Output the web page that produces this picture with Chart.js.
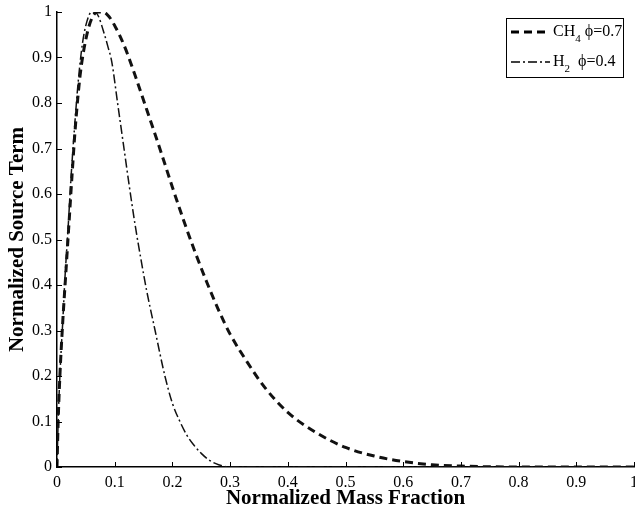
<!DOCTYPE html>
<html>
<head>
<meta charset="utf-8">
<script src="https://cdn.jsdelivr.net/npm/chart.js@4.4.1/dist/chart.umd.min.js"></script>
<style>
    html, body { margin: 0; padding: 0; background: #fff; }
    #wrap { width: 635px; height: 511px; }
</style>
</head>
<body>
<div id="wrap"><canvas id="sourceChart"></canvas></div>
<script>
// Normalized source term vs normalized mass fraction

const ch4X = [0, 0.002, 0.005, 0.01, 0.015, 0.02, 0.026, 0.032, 0.04, 0.05, 0.06, 0.07, 0.08, 0.09, 0.1, 0.11, 0.12, 0.135, 0.15, 0.165, 0.18, 0.2, 0.22, 0.24, 0.26, 0.28, 0.3, 0.33, 0.36, 0.4, 0.45, 0.5, 0.55, 0.6, 0.65, 0.7, 0.8, 0.9, 1];
const ch4Y = [0, 0.1, 0.2, 0.32, 0.42, 0.52, 0.64, 0.75, 0.86, 0.94, 0.985, 1.0, 1.0, 0.99, 0.97, 0.945, 0.915, 0.862, 0.806, 0.75, 0.693, 0.615, 0.54, 0.47, 0.405, 0.345, 0.292, 0.23, 0.175, 0.12, 0.075, 0.043, 0.024, 0.012, 0.005, 0.002, 0, 0, 0];

const h2X = [0, 0.002, 0.005, 0.01, 0.014, 0.019, 0.024, 0.03, 0.037, 0.044, 0.052, 0.06, 0.066, 0.072, 0.08, 0.088, 0.095, 0.105, 0.115, 0.125, 0.135, 0.145, 0.155, 0.17, 0.187, 0.2, 0.213, 0.225, 0.236, 0.25, 0.265, 0.28, 0.3, 0.35, 1];
const h2Y = [0, 0.1, 0.2, 0.32, 0.42, 0.52, 0.63, 0.74, 0.85, 0.93, 0.98, 1.0, 1.0, 0.99, 0.96, 0.925, 0.89, 0.80, 0.71, 0.62, 0.535, 0.46, 0.39, 0.3, 0.2, 0.14, 0.1, 0.07, 0.05, 0.03, 0.014, 0.005, 0, 0, 0];

// legend text pieces: base, subscript, rest
const legendParts = [
    ['CH', '4', ' \u03D5=0.7'],
    ['H', '2', '  \u03D5=0.4']
];

const toPoints = (xs, ys) => xs.map((x, i) => ({ x: x, y: ys[i] }));

const FONT = '"Liberation Serif", "Times New Roman", serif';

// ticks pointing into the plot, like the original
const inwardTicks = {
    id: 'inwardTicks',
    afterDraw(chart) {
        const ctx = chart.ctx;
        const area = chart.chartArea;
        const xs = chart.scales.x;
        const ys = chart.scales.y;
        ctx.save();
        ctx.strokeStyle = '#000';
        ctx.lineWidth = 1;
        xs.ticks.forEach(t => {
            const px = Math.round(xs.getPixelForValue(t.value)) + 0.5;
            ctx.beginPath();
            ctx.moveTo(px, area.bottom);
            ctx.lineTo(px, area.bottom - 5);
            ctx.stroke();
        });
        ys.ticks.forEach(t => {
            const py = Math.round(ys.getPixelForValue(t.value)) + 0.5;
            ctx.beginPath();
            ctx.moveTo(area.left, py);
            ctx.lineTo(area.left + 5, py);
            ctx.stroke();
        });
        ctx.restore();
    }
};

// boxed legend with subscripts
const boxLegend = {
    id: 'boxLegend',
    afterDraw(chart) {
        const ctx = chart.ctx;
        const left = 506, top = 18, w = 117, h = 59;
        ctx.save();
        ctx.fillStyle = '#fff';
        ctx.fillRect(left, top, w, h);
        ctx.strokeStyle = '#000';
        ctx.lineWidth = 1;
        ctx.strokeRect(left + 0.5, top + 0.5, w, h);
        chart.data.datasets.forEach((ds, i) => {
            const y = top + 14 + i * 30;
            ctx.beginPath();
            ctx.setLineDash(ds.borderDash);
            ctx.lineWidth = ds.borderWidth;
            ctx.moveTo(511, y);
            ctx.lineTo(550, y);
            ctx.stroke();
            ctx.setLineDash([]);
            const p = legendParts[i];
            ctx.fillStyle = '#000';
            ctx.textBaseline = 'middle';
            ctx.font = '16px ' + FONT;
            let x = 553;
            ctx.fillText(p[0], x, y);
            x += ctx.measureText(p[0]).width;
            ctx.font = '11px ' + FONT;
            ctx.fillText(p[1], x, y + 7);
            x += ctx.measureText(p[1]).width;
            ctx.font = '16px ' + FONT;
            ctx.fillText(p[2], x, y);
        });
        ctx.restore();
    }
};

new Chart(document.getElementById('sourceChart'), {
    type: 'line',
    data: {
        datasets: [
            {
                label: 'CH4 phi=0.7',
                data: toPoints(ch4X, ch4Y),
                borderColor: '#111',
                borderWidth: 3,
                borderDash: [8, 5],
                pointRadius: 0,
                fill: false,
                cubicInterpolationMode: 'monotone'
            },
            {
                label: 'H2 phi=0.4',
                data: toPoints(h2X, h2Y),
                borderColor: '#111',
                borderWidth: 1.5,
                borderDash: [9, 3, 2, 3],
                pointRadius: 0,
                fill: false,
                cubicInterpolationMode: 'monotone'
            }
        ]
    },
    options: {
        responsive: true,
        maintainAspectRatio: false,
        animation: false,
        layout: { padding: { top: 12, right: 1, left: 0, bottom: 0 } },
        plugins: {
            legend: { display: false },
            tooltip: { enabled: false }
        },
        scales: {
            x: {
                type: 'linear',
                min: 0,
                max: 1,
                grid: { drawOnChartArea: false, drawTicks: false },
                border: { color: '#000', width: 1.5 },
                ticks: {
                    stepSize: 0.1,
                    padding: 6,
                    color: '#000',
                    font: { family: FONT, size: 16 },
                    maxRotation: 0,
                    callback: v => String(+v.toFixed(1))
                },
                title: {
                    display: true,
                    text: 'Normalized Mass Fraction',
                    color: '#000',
                    font: { family: FONT, size: 21, weight: 'bold' },
                    padding: { top: 0, bottom: 0 }
                },
                afterFit: s => {
                    s.height = 44;
                    s.paddingLeft = 0;
                    s.paddingRight = 0;
                }
            },
            y: {
                min: 0,
                max: 1,
                grid: { drawOnChartArea: false, drawTicks: false },
                border: { color: '#000', width: 1.5 },
                ticks: {
                    stepSize: 0.1,
                    padding: 5,
                    color: '#000',
                    font: { family: FONT, size: 16 },
                    callback: v => String(+v.toFixed(1))
                },
                title: {
                    display: true,
                    text: 'Normalized Source Term',
                    color: '#000',
                    font: { family: FONT, size: 21, weight: 'bold' },
                    padding: { top: 5, bottom: 0 }
                },
                afterFit: s => {
                    s.width = 57;
                    s.paddingTop = 0;
                    s.paddingBottom = 0;
                }
            }
        }
    },
    plugins: [inwardTicks, boxLegend]
});
</script>
</body>
</html>
